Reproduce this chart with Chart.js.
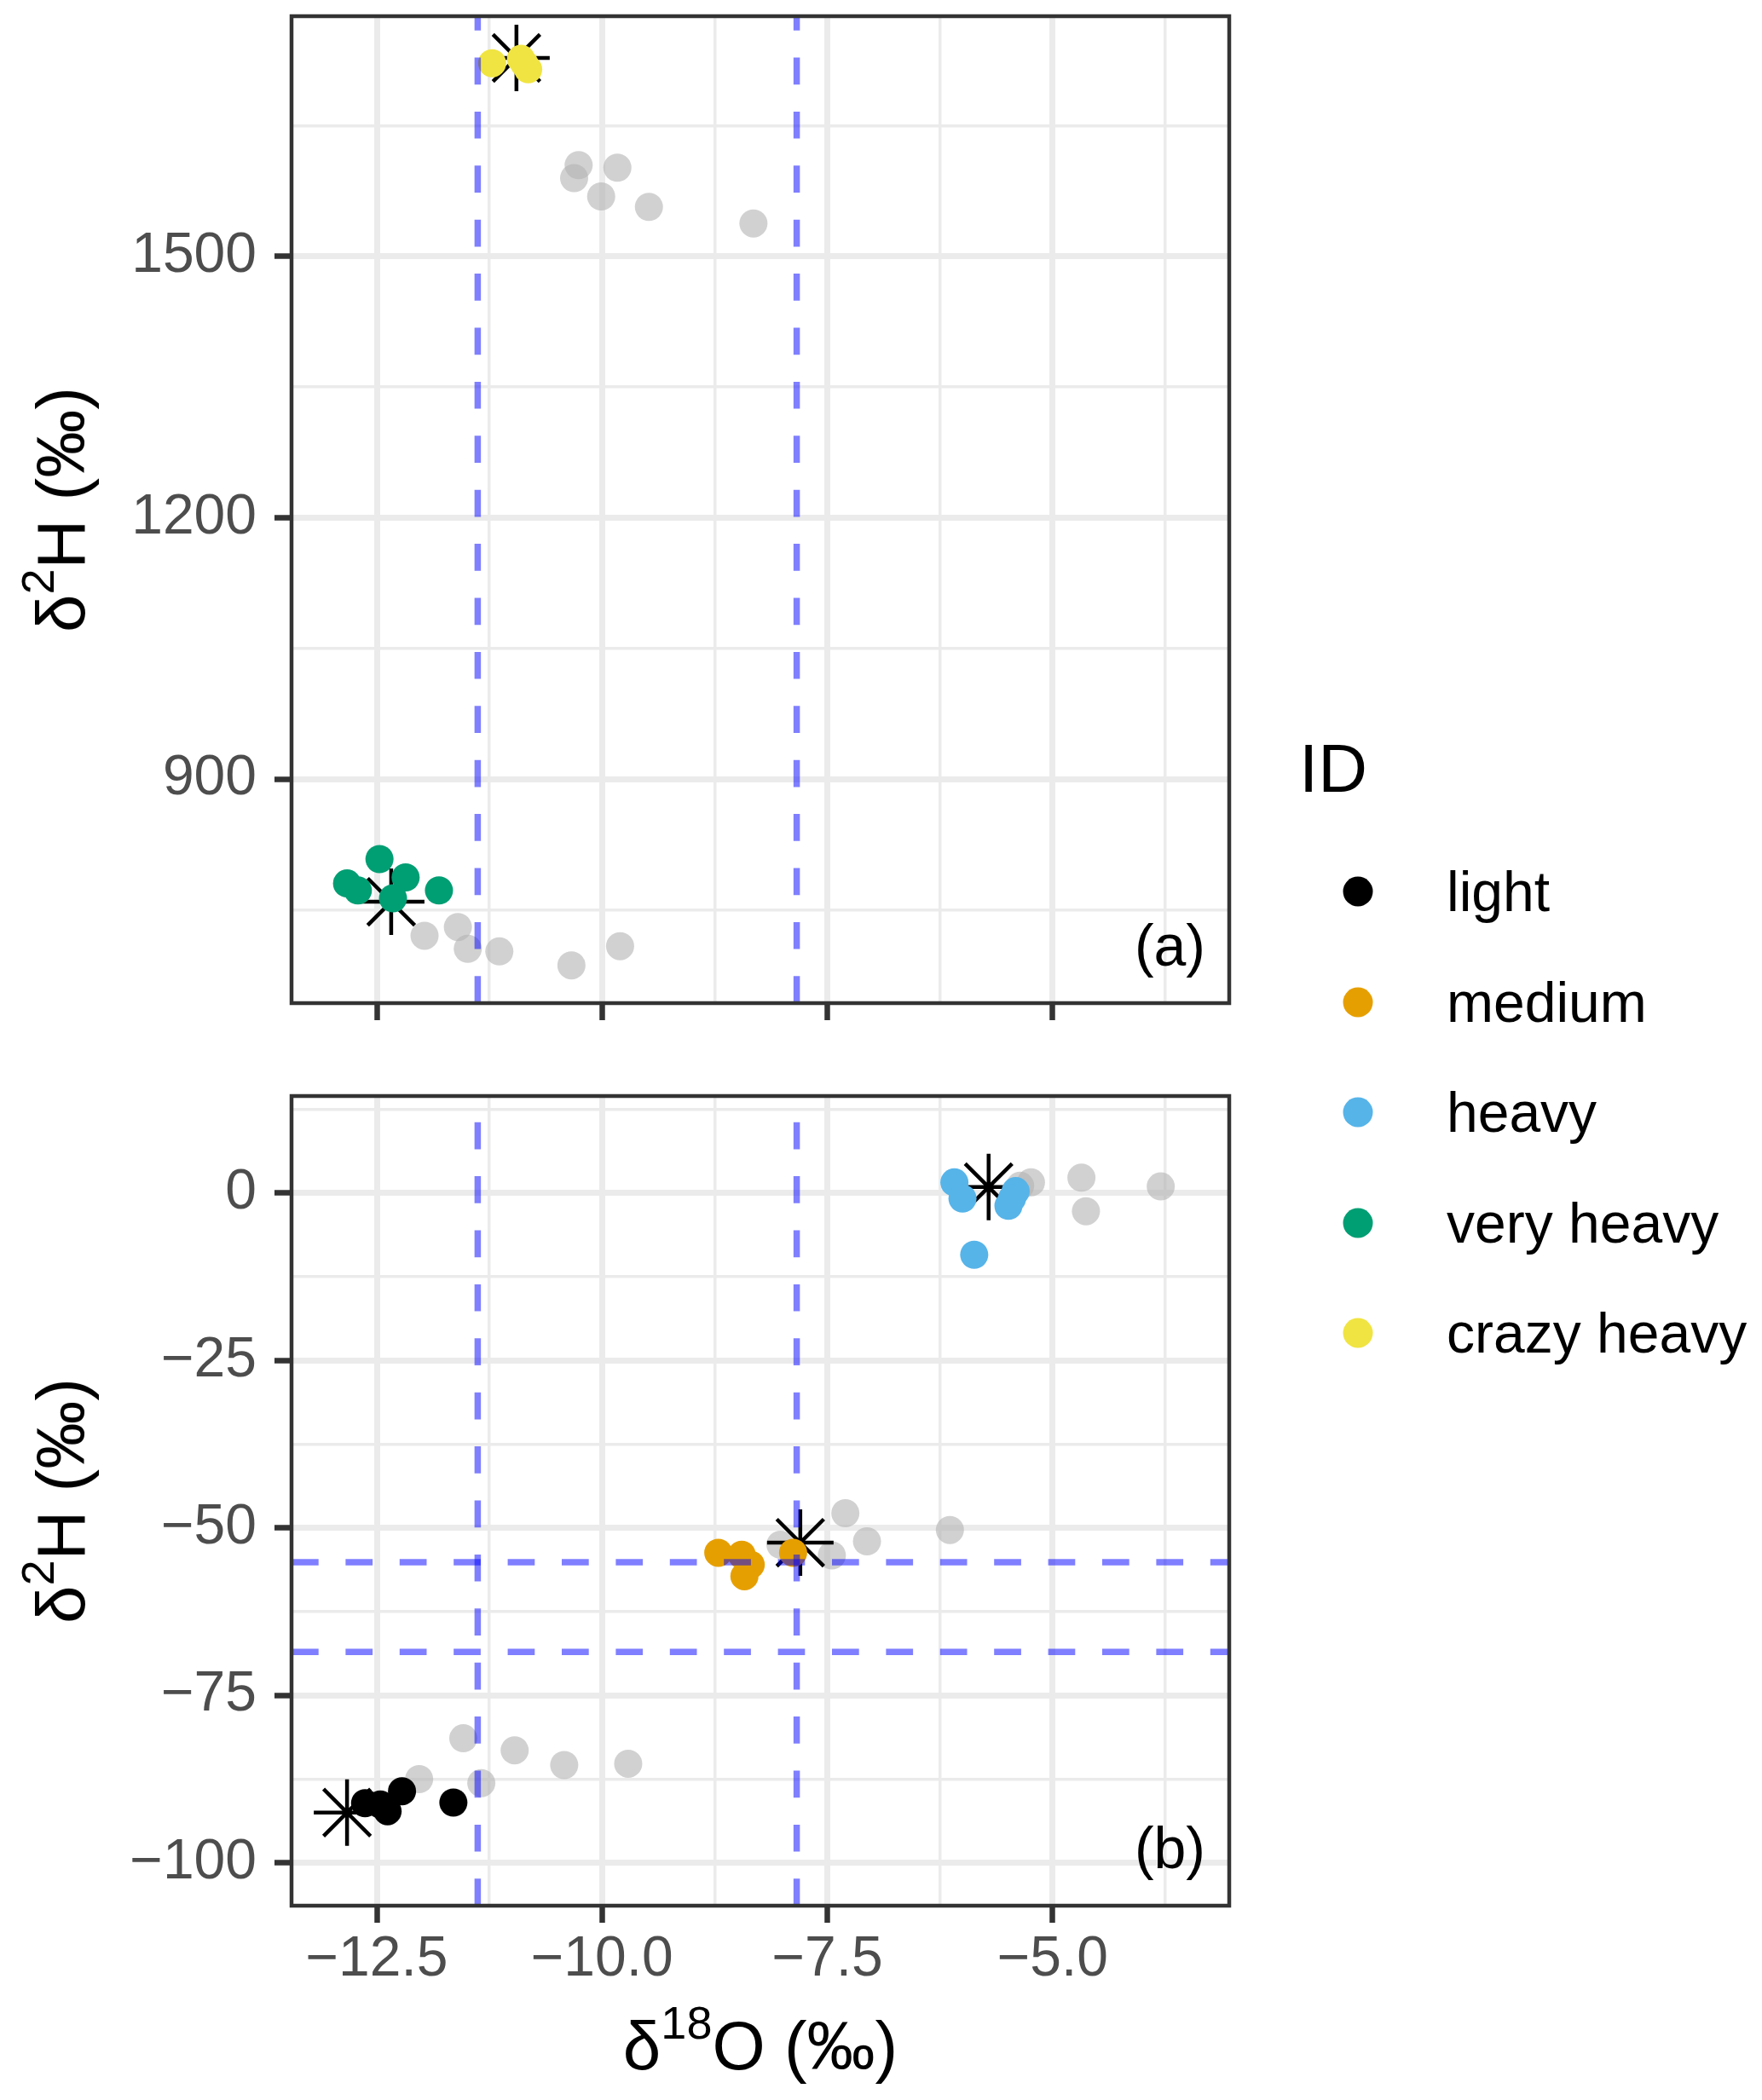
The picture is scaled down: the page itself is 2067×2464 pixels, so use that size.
<!DOCTYPE html>
<html>
<head>
<meta charset="utf-8">
<script src="https://cdn.jsdelivr.net/npm/chart.js@4.4.1/dist/chart.umd.min.js"></script>
<style>
  body { margin: 0; background: #fff; }
  #page { position: relative; width: 2067px; height: 2464px; overflow: hidden; background: #fff;
          font-family: "Liberation Sans", Arial, Helvetica, sans-serif; color: #000; }
  .box { position: absolute; left: 0; width: 1460px; }
  #boxA { top: 0; height: 1240px; }
  #boxB { top: 1240px; height: 1224px; }
  .title { position: absolute; font-size: 80px; line-height: 1; white-space: nowrap; }
  .ytitle { transform: translate(-50%, -50%) rotate(-90deg); }
  .xtitle { transform: translate(-50%, -50%); }
  .sup { font-size: 54px; vertical-align: 36px; line-height: 0; }
  .panel-tag { position: absolute; font-size: 68px; line-height: 1; transform: translate(-100%, -50%); }
  #legend { position: absolute; left: 0; top: 0; }
  .lg-title { position: absolute; left: 1524px; top: 862px; font-size: 80px; line-height: 1; }
  .lg-dot { position: absolute; width: 35px; height: 35px; border-radius: 50%; transform: translate(-50%, -50%); }
  .lg-text { position: absolute; font-size: 66px; line-height: 1; transform: translateY(-50%); white-space: nowrap; }
</style>
</head>
<body>
<div id="page">
  <div class="box" id="boxA"><canvas id="chartA"></canvas></div>
  <div class="box" id="boxB"><canvas id="chartB"></canvas></div>

  <div class="title ytitle" style="left:72px; top:598px;">&delta;<span class="sup">2</span>H (&permil;)</div>
  <div class="title ytitle" style="left:72px; top:1761px;">&delta;<span class="sup">2</span>H (&permil;)</div>
  <div class="title xtitle" style="left:892px; top:2401px;">&delta;<span class="sup">18</span>O (&permil;)</div>

  <div class="panel-tag" style="left:1414px; top:1109px;">(a)</div>
  <div class="panel-tag" style="left:1414px; top:2168px;">(b)</div>

  <div id="legend"></div>
</div>

<script>
// ---- data ----

// legend
const idNames = ['light', 'medium', 'heavy', 'very heavy', 'crazy heavy']
const idColors = ['#000000', '#E69F00', '#56B4E9', '#009E73', '#F0E442']

// axes
const xRange = [-13.446, -3.04]
const xMajorTicks = [-12.5, -10, -7.5, -5]
const xTickLabels = ['\u221212.5', '\u221210.0', '\u22127.5', '\u22125.0']
const xMinorTicks = [-11.25, -8.75, -6.25, -3.75]

const yRangeA = [642.6, 1776]
const yMajorTicksA = [900, 1200, 1500]
const yTickLabelsA = ['900', '1200', '1500']
const yMinorTicksA = [750, 1050, 1350, 1650]

const yRangeB = [-106.4, 14.5]
const yMajorTicksB = [-100, -75, -50, -25, 0]
const yTickLabelsB = ['\u2212100', '\u221275', '\u221250', '\u221225', '0']
const yMinorTicksB = [-87.5, -62.5, -37.5, -12.5, 12.5]

// dashed reference lines
const vLines = [-11.38, -7.84]
const hLinesB = [-55.1, -68.5]

// panel (a)
const crazyX = [-11.22, -10.90, -10.82, -10.86]
const crazyY = [1722, 1727, 1715, 1721]
const veryX = [-12.47, -12.83, -12.71, -12.18, -12.32, -11.81]
const veryY = [808, 780, 772, 787, 763, 772]
const starAX = [-10.95, -12.34]
const starAY = [1728, 759]
const greyAX = [-10.26, -10.31, -9.83, -10.01, -9.48, -8.32, -11.97, -11.60, -11.49, -11.14, -10.34, -9.80]
const greyAY = [1605, 1590, 1602, 1569, 1557, 1538, 720, 730, 705, 702, 686, 708]

// panel (b)
const lightX = [-12.63, -12.46, -12.38, -12.22, -11.65]
const lightY = [-91.1, -91.3, -92.3, -89.3, -91.0]
const mediumX = [-8.71, -8.45, -8.35, -8.42, -7.88]
const mediumY = [-53.7, -54.0, -55.5, -57.2, -53.7]
const heavyX = [-6.09, -6.00, -5.87, -5.41, -5.49, -5.45]
const heavyY = [1.6, -0.8, -9.2, 0.3, -1.9, -0.8]
const starBX = [-12.83, -7.80, -5.71]
const starBY = [-92.5, -52.2, 0.9]
const greyBX = [-12.03, -11.54, -11.34, -10.97, -10.42, -9.71, -7.30, -7.06, -6.14, -8.02, -7.45, -5.36, -5.24, -4.68, -4.63, -3.80]
const greyBY = [-87.5, -81.4, -88.1, -83.2, -85.4, -85.2, -47.8, -52.0, -50.3, -52.5, -54.1, 1.1, 1.6, 2.3, -2.7, 1.0]

// ---- helpers ----
const FONT = '"Liberation Sans", Arial, Helvetica, sans-serif'
const GRID = '#EBEBEB'
const DARK = '#333333'
const GREY_PT = 'rgba(179,179,179,0.6)'
const DASH = 'rgba(0,0,255,0.5)'

function pts(xs, ys) {
  return xs.map((x, i) => ({ x: x, y: ys[i] }))
}

function pointSet(xs, ys, color) {
  return {
    data: pts(xs, ys),
    pointRadius: 16.5,
    pointBackgroundColor: color,
    pointBorderColor: color,
    pointBorderWidth: 0,
    showLine: false,
    clip: 0
  }
}

function starSet(xs, ys) {
  return {
    data: pts(xs, ys),
    pointStyle: 'star',
    pointRadius: 39,
    pointBorderColor: '#000000',
    pointBackgroundColor: 'rgba(0,0,0,0)',
    pointBorderWidth: 4.5,
    showLine: false,
    clip: 0
  }
}

function vLineSet(x, yr) {
  return {
    data: [{ x: x, y: yr[0] }, { x: x, y: yr[1] }],
    showLine: true,
    pointRadius: 0,
    borderColor: DASH,
    borderWidth: 7.5,
    borderDash: [31.7, 31.7],
    clip: 0
  }
}

function hLineSet(y, xr) {
  return {
    data: [{ x: xr[0], y: y }, { x: xr[1], y: y }],
    showLine: true,
    pointRadius: 0,
    borderColor: DASH,
    borderWidth: 7.5,
    borderDash: [31.7, 31.7],
    clip: 0
  }
}

function axis(range, majors, labels, minors, opts) {
  const all = majors.concat(minors)
  return {
    type: 'linear',
    position: opts.position,
    min: range[0],
    max: range[1],
    afterBuildTicks: (scale) => {
      scale.ticks = all.slice().sort((a, b) => a - b).map(v => ({ value: v }))
    },
    afterFit: (scale) => {
      if (opts.position === 'left') scale.width = opts.size
      else scale.height = opts.size
      // labels hanging over the panel ends must not push the plot box
      scale.paddingTop = 0
      scale.paddingBottom = 0
      scale.paddingLeft = 0
      scale.paddingRight = 0
    },
    border: { display: false },
    grid: {
      color: GRID,
      lineWidth: (c) => majors.includes(c.tick.value) ? 7 : 3.5,
      drawTicks: true,
      tickLength: 20,
      tickWidth: 6.5,
      tickColor: (c) => majors.includes(c.tick.value) ? DARK : 'rgba(0,0,0,0)'
    },
    ticks: {
      autoSkip: false,
      maxRotation: 0,
      minRotation: 0,
      padding: opts.padding,
      color: '#4D4D4D',
      font: { family: FONT, size: 66 },
      callback: (value) => {
        if (!opts.labels) return ''
        const i = majors.indexOf(value)
        return i >= 0 ? labels[i] : ''
      }
    }
  }
}

const panelBorder = {
  id: 'panelBorder',
  afterDraw(chart) {
    const a = chart.chartArea
    const c = chart.ctx
    c.save()
    c.strokeStyle = DARK
    c.lineWidth = 4.5
    c.strokeRect(a.left, a.top, a.right - a.left, a.bottom - a.top)
    c.restore()
  }
}

function baseOptions(padding, xScale, yScale) {
  return {
    responsive: true,
    maintainAspectRatio: false,
    devicePixelRatio: 1,
    animation: false,
    events: [],
    layout: { padding: padding, autoPadding: false },
    plugins: {
      legend: { display: false },
      tooltip: { enabled: false }
    },
    scales: { x: xScale, y: yScale }
  }
}

// ---- panel (a) ----
(() => {
  'use strict'
  const ctx = document.getElementById('chartA')
  new Chart(ctx, {
    type: 'scatter',
    data: {
      datasets: [
        vLineSet(vLines[0], yRangeA),
        vLineSet(vLines[1], yRangeA),
        pointSet(crazyX, crazyY, idColors[4]),
        pointSet(veryX, veryY, idColors[3]),
        starSet(starAX, starAY),
        pointSet(greyAX, greyAY, GREY_PT)
      ]
    },
    options: baseOptions(
      { top: 19, right: 18, bottom: 0, left: 0 },
      axis(xRange, xMajorTicks, xTickLabels, xMinorTicks, { position: 'bottom', size: 63, padding: 4, labels: false }),
      axis(yRangeA, yMajorTicksA, yTickLabelsA, yMinorTicksA, { position: 'left', size: 342, padding: 21, labels: true })
    ),
    plugins: [panelBorder]
  })
})();

// ---- panel (b) ----
(() => {
  'use strict'
  const ctx = document.getElementById('chartB')
  new Chart(ctx, {
    type: 'scatter',
    data: {
      datasets: [
        vLineSet(vLines[0], yRangeB),
        vLineSet(vLines[1], yRangeB),
        hLineSet(hLinesB[0], xRange),
        hLineSet(hLinesB[1], xRange),
        pointSet(lightX, lightY, idColors[0]),
        pointSet(mediumX, mediumY, idColors[1]),
        pointSet(heavyX, heavyY, idColors[2]),
        starSet(starBX, starBY),
        pointSet(greyBX, greyBY, GREY_PT)
      ]
    },
    options: baseOptions(
      { top: 46, right: 18, bottom: 0, left: 0 },
      axis(xRange, xMajorTicks, xTickLabels, xMinorTicks, { position: 'bottom', size: 228, padding: 4, labels: true }),
      axis(yRangeB, yMajorTicksB, yTickLabelsB, yMinorTicksB, { position: 'left', size: 342, padding: 21, labels: true })
    ),
    plugins: [panelBorder]
  })
})();

// ---- legend ----
(() => {
  'use strict'
  const lg = document.getElementById('legend')
  const t = document.createElement('div')
  t.className = 'lg-title'
  t.textContent = 'ID'
  lg.appendChild(t)
  idNames.forEach((name, i) => {
    const y = 1046 + i * 129.5
    const dot = document.createElement('div')
    dot.className = 'lg-dot'
    dot.style.left = '1593px'
    dot.style.top = y + 'px'
    dot.style.background = idColors[i]
    lg.appendChild(dot)
    const txt = document.createElement('div')
    txt.className = 'lg-text'
    txt.style.left = '1697px'
    txt.style.top = y + 'px'
    txt.textContent = name
    lg.appendChild(txt)
  })
})();
</script>
</body>
</html>
